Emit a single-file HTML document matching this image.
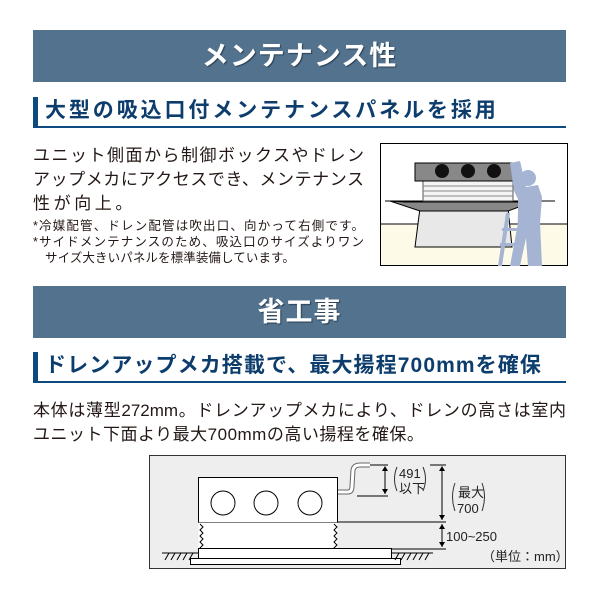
<!DOCTYPE html>
<html><head><meta charset="utf-8"><style>
body{margin:0;width:600px;height:600px;background:#fff;position:relative;overflow:hidden;font-family:"Liberation Sans","Noto Sans CJK JP",sans-serif;color:#231815}
.band{position:absolute;left:33px;width:533px;height:52px;background:#52728e;color:#fff;font-weight:bold;font-size:27px;text-align:center;line-height:52px;letter-spacing:1px;text-shadow:1px 1px 1px #2a3f52}
.sub{position:absolute;left:33px;width:533px;height:29px;border-bottom:2px solid #0d4a80;}
.sub:before{content:"";position:absolute;left:0;top:0;width:5px;height:31px;background:#0d4a80}
.sub span{position:absolute;left:12px;top:-3px;font-size:21px;font-weight:bold;color:#0d3d6d;white-space:nowrap}
.ln{position:absolute;white-space:nowrap;font-size:17px;line-height:20px}
.j{text-align:justify;text-align-last:justify;white-space:normal}
.n{position:absolute;font-size:12.5px;line-height:15px;white-space:nowrap}
</style></head><body>
<div class="band" style="top:30px">メンテナンス性</div>
<div class="sub" style="top:97px"><span style="letter-spacing:2.9px">大型の吸込口付メンテナンスパネルを採用</span></div>
<div class="ln j" style="left:33px;top:146px;width:331px">ユニット側面から制御ボックスやドレン</div>
<div class="ln j" style="left:33px;top:170px;width:331px">アップメカにアクセスでき、メンテナンス</div>
<div class="ln" style="left:33px;top:194px;letter-spacing:3.6px">性が向上。</div>
<div class="n j" style="left:33px;top:219px;width:331px">*冷媒配管、ドレン配管は吹出口、向かって右側です。</div>
<div class="n j" style="left:33px;top:235px;width:331px">*サイドメンテナンスのため、吸込口のサイズよりワン</div>
<div class="n" style="left:45px;top:251px;letter-spacing:0.1px">サイズ大きいパネルを標準装備しています。</div>
<svg style="position:absolute;left:380px;top:143px" width="188" height="123" viewBox="0 0 188 123">
<rect x="0.5" y="0.5" width="187" height="122" fill="#fff" stroke="#000"/>
<rect x="1" y="81" width="186" height="41" fill="#fdfbe8"/>
<line x1="1" y1="81" x2="187" y2="81" stroke="#000"/>
<polygon points="40,65 128,65 132,104 35,104" fill="#e8e8e8" stroke="#000"/>
<polygon points="25,59 148,59 150,52 155,58 128,68 40,68 10,58" fill="#888" stroke="#000"/>
<line x1="5" y1="58" x2="175" y2="58" stroke="#000"/>
<rect x="43" y="38" width="90" height="20" fill="#f4f4f4" stroke="#555"/>
<line x1="43" y1="43" x2="133" y2="43" stroke="#888"/><line x1="43" y1="48" x2="133" y2="48" stroke="#888"/><line x1="43" y1="53" x2="133" y2="53" stroke="#888"/>
<rect x="35" y="20" width="99" height="18" fill="#888" stroke="#000"/>
<circle cx="62" cy="28" r="7" fill="#111"/><circle cx="88" cy="28" r="7" fill="#111"/><circle cx="114" cy="28" r="7" fill="#111"/>
<g fill="#a4b4d2">
<circle cx="148" cy="35" r="8"/>
<path d="M130,20 L140,18 L146,44 L158,42 L162,54 L160,80 L162,123 L148,123 L146,95 L140,123 L130,123 L138,80 L138,56 L134,48 Z"/>
<path d="M118,123 L126,70 L130,70 L122,123 Z M136,123 L138,70 L142,70 L140,123 Z M122,85 L140,85 L140,88 L122,88 Z M120,100 L140,100 L140,103 L120,103 Z"/>
</g>
</svg>
<div class="band" style="top:286px">省工事</div>
<div class="sub" style="top:352px"><span style="letter-spacing:1.1px">ドレンアップメカ搭載で、最大揚程700mmを確保</span></div>
<div class="ln j" style="left:33px;top:401px;width:533px">本体は薄型272mm。ドレンアップメカにより、ドレンの高さは室内</div>
<div class="ln" style="left:33px;top:425px;letter-spacing:0.5px">ユニット下面より最大700mmの高い揚程を確保。</div>
<svg style="position:absolute;left:0;top:0" width="600" height="600">
<rect x="149.5" y="455.5" width="416" height="113" fill="#eeeeee" stroke="#333"/>
<g stroke="#000" fill="none" stroke-width="1">
<rect x="198.5" y="477.5" width="139" height="45" fill="#fff"/>
<circle cx="223" cy="503" r="12"/><circle cx="266" cy="503" r="12"/><circle cx="310" cy="503" r="12"/>
<rect x="198.5" y="522.5" width="139" height="26" fill="#fff" stroke="none"/>
<path d="M200,524 l3,3 l-3,3 l3,3 l-3,3 l3,3 l-3,3 l3,3 l-3,3 l3,3 l-3,3"/>
<path d="M334,524 l3,3 l-3,3 l3,3 l-3,3 l3,3 l-3,3 l3,3 l-3,3 l3,3 l-3,3"/>
<rect x="198.5" y="548.5" width="193" height="10" fill="#fff"/>
<rect x="190.5" y="558.5" width="210" height="6" fill="#fff"/>
<line x1="162" y1="553" x2="198" y2="553"/><line x1="392" y1="553" x2="433" y2="553"/>
<path d="M165,560l4,-7M171,560l4,-7M177,560l4,-7M183,560l4,-7M189,560l4,-7M395,560l4,-7M401,560l4,-7M407,560l4,-7M413,560l4,-7M419,560l4,-7M425,560l4,-7"/>
<path d="M338,492 L348,492 Q352,492 352,486 L353,470 Q354,465 360,465 L370,465" stroke="#666" stroke-width="5"/>
<path d="M338,492 L348,492 Q352,492 352,486 L353,470 Q354,465 360,465 L370,465" stroke="#fff" stroke-width="3"/>
<line x1="357" y1="496" x2="388" y2="496"/><line x1="370" y1="465" x2="388" y2="465"/>
<line x1="385" y1="467" x2="385" y2="494"/>
<line x1="430" y1="465" x2="446" y2="465"/><line x1="337" y1="522" x2="446" y2="522"/><line x1="391" y1="549" x2="446" y2="549"/>
<line x1="442" y1="467" x2="442" y2="520"/><line x1="442" y1="524" x2="442" y2="547"/>
<path d="M397,467 q-5,12 0,24 M423,467 q5,12 0,24 M455,483 q-5,14 0,28 M482,483 q5,14 0,28" stroke="#333"/>
</g>
<g fill="#000">
<path d="M382,471 l3,-5 l3,5z M382,489 l3,5 l3,-5z"/>
<path d="M439,471 l3,-5 l3,5z M439,515 l3,5 l3,-5z M439,529 l3,-5 l3,5z M439,542 l3,5 l3,-5z"/>
</g>
<g font-family="Liberation Sans,Noto Sans CJK JP,sans-serif" font-size="13" fill="#222">
<text x="399" y="478">491</text><text x="399" y="493">以下</text>
<text x="458" y="497">最大</text><text x="457" y="513">700</text>
<text x="446" y="541">100~250</text>
<text x="482" y="561">（単位：mm）</text>
</g>
</svg>
</body></html>
